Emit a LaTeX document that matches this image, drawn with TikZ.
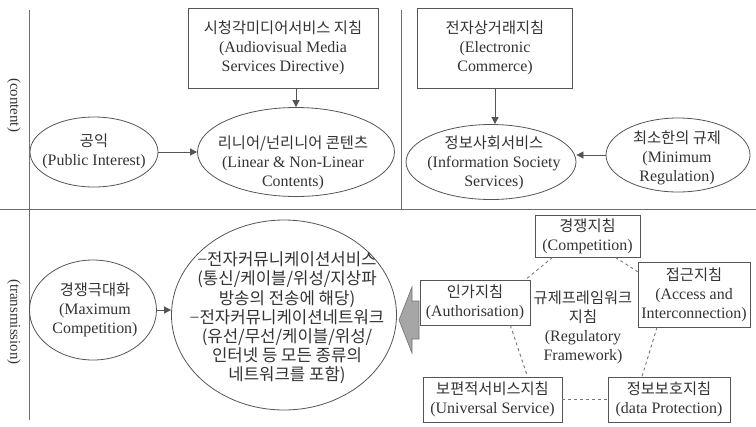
\documentclass[tikz,border=0pt]{standalone}
\usepackage{fontspec}
\setmainfont{Liberation Serif}
\newfontfamily\kr[Scale=0.96]{Noto Sans CJK KR}
\usetikzlibrary{arrows.meta,shapes.geometric}
\definecolor{ink}{HTML}{333333}
\definecolor{ln}{HTML}{555555}
\begin{document}
\begin{tikzpicture}[x=1bp,y=-1bp,
  every node/.style={text=ink,font=\fontsize{16}{19}\selectfont,align=center,inner sep=0pt},
  box/.style={draw=ln,line width=0.8bp,rectangle},
  ell/.style={draw=ln,line width=0.8bp,ellipse},
  arr/.style={draw=ln,line width=0.8bp,-{Triangle[length=7bp,width=7bp]}},
  dsh/.style={draw=ln!80,line width=0.9bp,dash pattern=on 3bp off 3bp},
  axisline/.style={draw=ln!85,line width=1bp},
  side/.style={rotate=-90,font=\fontsize{15}{18}\selectfont}]
\useasboundingbox (0,0) rectangle (756,426);
\fill[white] (0,0) rectangle (756,426);
% axes
\coordinate (vt) at (29,10); \coordinate (vb) at (29,420);
\coordinate (hl) at (0,209); \coordinate (hr) at (756,209);
\coordinate (dt) at (401,10); \coordinate (db) at (401,209);
\draw[axisline] (vt) -- (vb);
\draw[axisline] (hl) -- (hr);
\draw[axisline] (dt) -- (db);
\node[side] (lc) at (14,105) {(content)};
\node[side] (lt) at (14,322) {(transmission)};
% content, left
\node[box,minimum width=190bp,minimum height=80bp] (avmsd) at (283,48) {{\kr 시청각미디어서비스 지침}\\(Audiovisual Media\\Services Directive)};
\node[ell,minimum width=128bp,minimum height=70bp] (pi) at (94,152) {};
\node (pit) at (94,151) {{\kr 공익}\\(Public Interest)};
\node[ell,minimum width=197bp,minimum height=89bp] (lin) at (296,152) {};
\node (lint) at (293,163) {{\kr 리니어/넌리니어 콘텐츠}\\(Linear \& Non-Linear\\Contents)};
% content, right
\node[box,minimum width=155bp,minimum height=80bp] (ec) at (495,48) {{\kr 전자상거래지침}\\(Electronic\\Commerce)};
\node[ell,minimum width=170bp,minimum height=75bp] (is) at (491,162) {};
\node (ist) at (494,163) {{\kr 정보사회서비스}\\(Information Society\\Services)};
\node[ell,minimum width=144bp,minimum height=74bp] (mr) at (678,155) {};
\node (mrt) at (677,158) {{\kr 최소한의 규제}\\(Minimum\\Regulation)};
\draw[arr] (avmsd.south -| lin.north) -- (lin.north);
\draw[arr] (pi.east) -- (lin.west);
\draw[arr] (ec.south) -- (ec.south |- is.north);
\draw[arr] (mr.west) -- (mr.west -| is.east);
% transmission
\node[ell,minimum width=127bp,minimum height=100bp] (mc) at (93,310) {};
\node (mct) at (95,310) {{\kr 경쟁극대화}\\(Maximum\\Competition)};
\node[ell,minimum width=225bp,minimum height=190bp] (big) at (284,315) {};
\node[font=\kr\fontsize{17.5}{19.3}\selectfont] (bigt) at (287,318) {{\rmfamily −}전자커뮤니케이션서비스\\(통신/케이블/위성/지상파\\방송의 전송에 해당)\\{\rmfamily −}전자커뮤니케이션네트워크\\(유선/무선/케이블/위성/\\인터넷 등 모든 종류의\\네트워크를 포함)};
\draw[arr] (mc.east) -- (mc.east -| big.west);
% regulatory framework
\node (reg) at (583,327) {{\kr 규제프레임워크}\\{\kr 지침}\\(Regulatory\\Framework)};
\node[box,fill=white,minimum width=110bp,minimum height=45bp] (auth) at (475,302.5) {{\kr 인가지침}\\(Authorisation)};
\node[box,minimum width=105bp,minimum height=42bp] (comp) at (587.5,236) {{\kr 경쟁지침}\\(Competition)};
\node[box,minimum width=112bp,minimum height=65bp] (acc) at (694,294.5) {{\kr 접근지침}\\(Access and\\Interconnection)};
\node[box,minimum width=139bp,minimum height=45bp] (us) at (492.5,399.5) {{\kr 보편적서비스지침}\\(Universal Service)};
\node[box,minimum width=122bp,minimum height=45bp] (dp) at (669,399.5) {{\kr 정보보호지침}\\(data Protection)};
\draw[dsh] ([xshift=18bp]comp.south west) -- ([xshift=-5bp]auth.north east);
\draw[dsh] ([xshift=-25bp]comp.south east) -- ([yshift=-10bp]acc.north west);
\draw[dsh] ([xshift=-20bp]auth.south east) -- ([xshift=35bp]us.north);
\draw[dsh] ([xshift=-37bp]acc.south) -- ([xshift=-27bp]dp.north);
\draw[dsh] (us.east) -- (dp.west);
% block arrow from the framework to the transmission ellipse
\filldraw[fill=black!35,draw=black!55,line width=0.6bp] (399,320) -- (412,287) -- (412,301) -- (419,301) -- (419,339) -- (412,339) -- (412,353) -- cycle;
\end{tikzpicture}
\end{document}
